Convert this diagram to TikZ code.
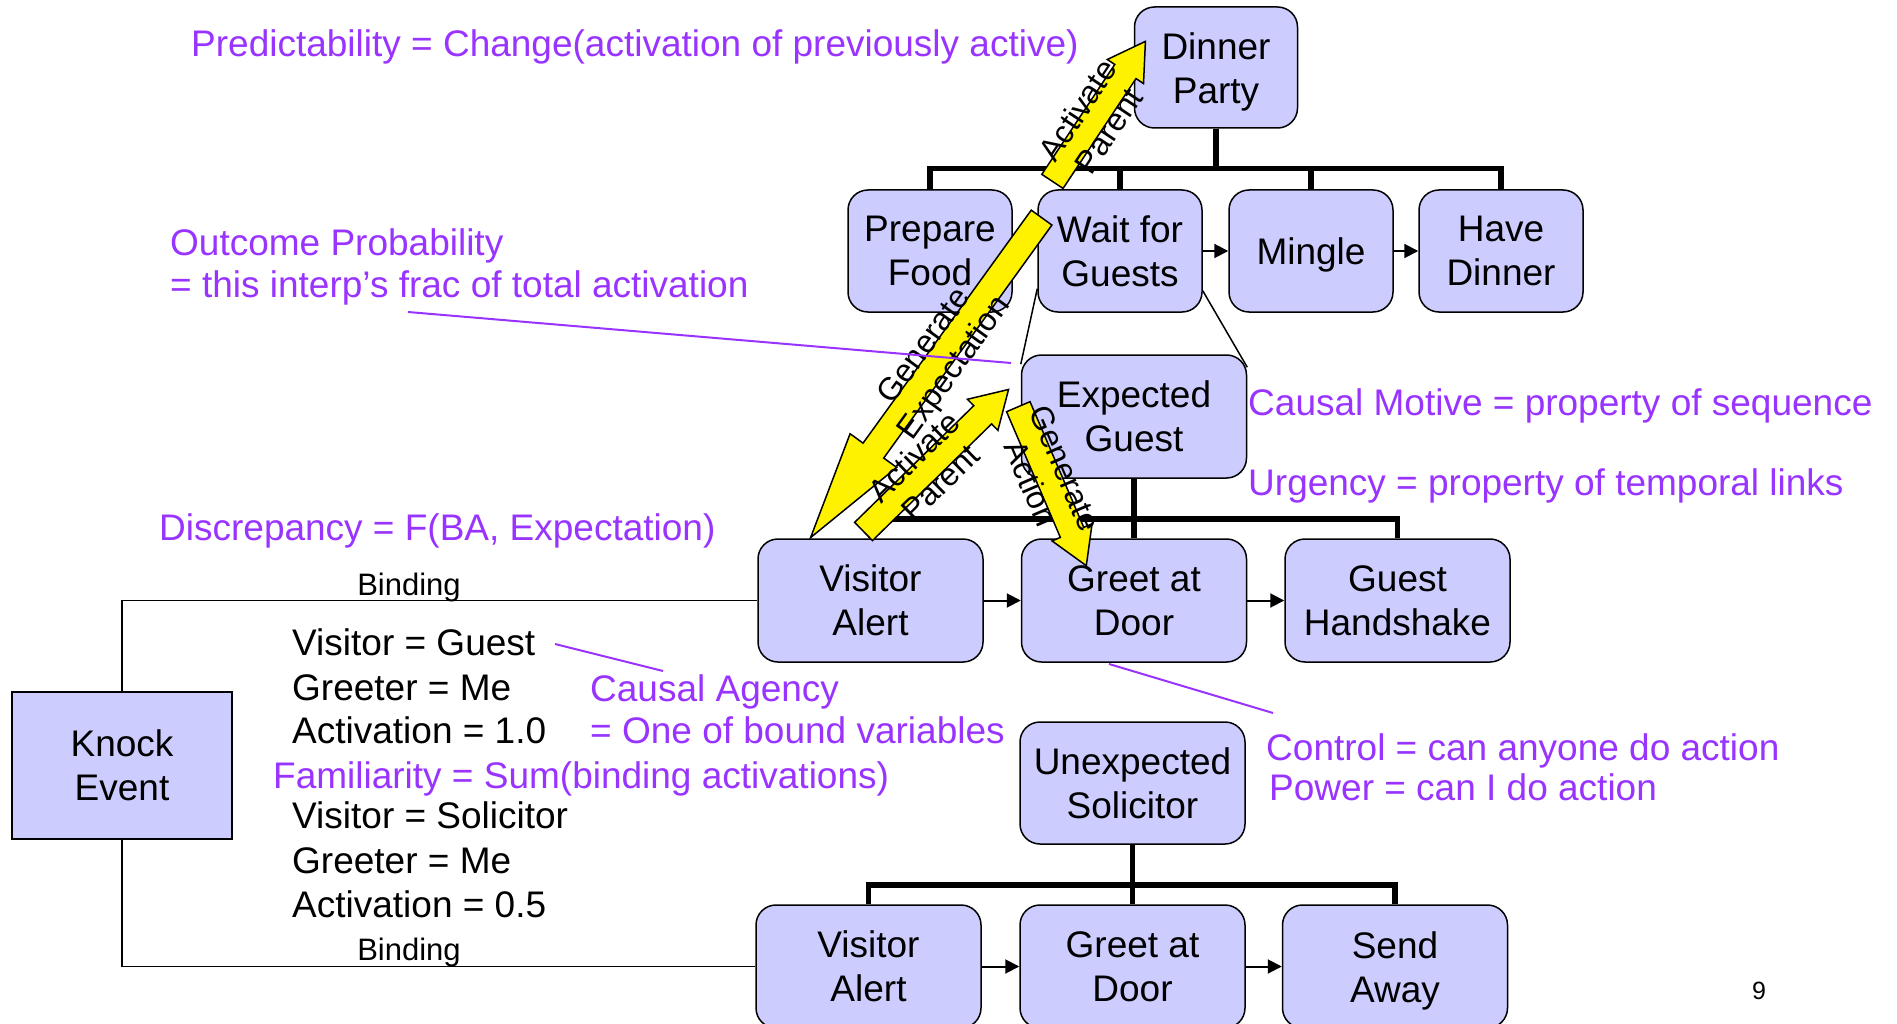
\documentclass[tikz,border=0pt]{standalone}
\usepackage{fontspec}
\setmainfont{Liberation Sans}
\usetikzlibrary{arrows.meta}
\usetikzlibrary{shapes.arrows}
\usetikzlibrary{calc}

\definecolor{boxfill}{HTML}{CCCCFF}
\definecolor{notecol}{HTML}{9933FF}
\newcommand{\tl}{\rule{0pt}{35pt}}

\tikzset{
  box/.style={draw, line width=1.5pt, fill=boxfill, rounded corners=20pt, align=center,
    inner sep=0pt, minimum width=164pt, minimum height=122pt, font=\fontsize{37}{44}\selectfont},
  wide/.style={minimum width=225pt, minimum height=123pt},
  tree/.style={line width=5.5pt},
  seq/.style={line width=2pt, -{Triangle[length=14pt,width=14pt]}},
  thinline/.style={line width=1.5pt},
  pointer/.style={line width=2pt, notecol},
  vars/.style={anchor=base west, inner sep=0pt, font=\fontsize{37}{44}\selectfont},
  note/.style={vars, text=notecol},
  small/.style={anchor=base, inner sep=0pt, font=\fontsize{31}{37}\selectfont},
  bigarrow/.style={single arrow, draw, line width=1.5pt, fill=yellow, inner xsep=0pt,
    inner ysep=12pt, single arrow head extend=9pt, single arrow tip angle=62},
  arrowtext/.style={align=center, inner sep=0pt, font=\fontsize{32}{37}\selectfont}
}

% yellow block arrow: [extra], name, from, to, label
\newcommand{\yarrow}[5][]{%
  \path let \p1=($(#4)-(#3)$), \n1={atan2(\y1,\x1)}, \n2={veclen(\x1,\y1)},
        \n3={ifthenelse(\x1<0,\n1+180,\n1)} in
    node (#2) [bigarrow, #1, anchor=tail, rotate=\n1, minimum height=\n2] at (#3) {}
    node (#2label) [arrowtext, rotate=\n3] at ($(#3)!0.44!(#4)$) {#5};
}

\begin{document}
\begin{tikzpicture}[x=1pt, y=-1pt]
\useasboundingbox (0,0) rectangle (1897,1024);

% Dinner party script
\node (dinner) [box, minimum width=163pt, minimum height=121pt] at (1216, 67.5) {\tl Dinner\\Party};
\node (prep) [box] at (930, 251) {Prepare\\Food};
\node (wait) [box] at (1120, 251) {Wait for\\Guests};
\node (mingle) [box] at (1311, 251) {\tl Mingle};
\node (havedinner) [box] at (1501, 251) {Have\\Dinner};

% Expected guest script
\node (expected) [box, wide] at (1134, 416.5) {Expected\\Guest};
\node (visitor1) [box, wide] at (870.5, 600.5) {Visitor\\Alert};
\node (greet1) [box, wide] at (1134, 600.5) {Greet at\\Door};
\node (handshake) [box, wide] at (1397.5, 600.5) {Guest\\Handshake};

% Unexpected solicitor script
\node (unexpected) [box, wide, minimum height=122pt] at (1132.5, 783) {Unexpected\\Solicitor};
\node (visitor2) [box, wide] at (868.5, 966.5) {Visitor\\Alert};
\node (greet2) [box, wide] at (1132.5, 966.5) {Greet at\\Door};
\node (sendaway) [box, wide] at (1395, 966.5) {\tl Send\\Away};

% Event
\node (knock) [box, sharp corners, minimum width=220pt, minimum height=147pt] at (122, 765.5) {Knock\\Event};

% Tree links
\foreach \kid in {prep, wait, mingle, havedinner}
  \draw[tree] (dinner.south) -- ++(0, 40) -| (\kid.north);
\foreach \kid in {visitor1, greet1, handshake}
  \draw[tree] (expected.south) -- ++(0, 40) -| (\kid.north);
\foreach \kid in {visitor2, greet2, sendaway}
  \draw[tree] (unexpected.south) -- ++(0, 40) -| (\kid.north);

% Sequence links
\draw[seq] (wait) -- (mingle);
\draw[seq] (mingle) -- (havedinner);
\draw[seq] (visitor1) -- (greet1);
\draw[seq] (greet1) -- (handshake);
\draw[seq] (visitor2) -- (greet2);
\draw[seq] (greet2) -- (sendaway);

% Expansion of Wait for Guests
\draw[thinline] ([yshift=24pt]wait.south west) -- ([yshift=-10pt]expected.north west);
\draw[thinline] ([yshift=22pt]wait.south east) -- ([yshift=-13pt]expected.north east);

% Bindings
\draw[thinline] (knock.north) |- (visitor1.west);
\draw[thinline] (knock.south) |- (visitor2.west);
\node (bind1) [small] at (409, 595) {Binding};
\node (bind2) [small] at (409, 960) {Binding};

\node (vg1) [vars] at (292, 655) {Visitor = Guest};
\node (gm1) [vars] at (292, 700) {Greeter = Me};
\node (act1) [vars] at (292, 743) {Activation = 1.0};
\node (vs2) [vars] at (292, 828) {Visitor = Solicitor};
\node (gm2) [vars] at (292, 873) {Greeter = Me};
\node (act2) [vars] at (292, 917) {Activation = 0.5};

% Yellow arrows
\coordinate (a1s) at (1052, 182);
\coordinate (a1e) at (1145, 42);
\coordinate (a2s) at (1042, 217);
\coordinate (a2e) at (811, 537);
\coordinate (a3s) at (863, 532);
\coordinate (a3e) at (1008, 390);
\coordinate (a4s) at (1018, 406);
\coordinate (a4e) at (1086, 565);
\yarrow{up1}{a1s}{a1e}{Activate\\Parent}
\yarrow[single arrow head extend=16pt, single arrow tip angle=30]{expect}{a2s}{a2e}{Generate\\Expectation}
\yarrow{up2}{a3s}{a3e}{Activate\\Parent}
\yarrow{action}{a4s}{a4e}{Generate\\Action}

% Notes
\node (predict) [note] at (191, 57) {Predictability = Change(activation of previously active)};
\node (outcome1) [note] at (170, 255) {Outcome Probability};
\node (outcome2) [note] at (170, 297) {= this interp’s frac of total activation};
\node (discrep) [note] at (159, 540) {Discrepancy = F(BA, Expectation)};
\node (motive) [note] at (1248, 415) {Causal Motive = property of sequence};
\node (urgency) [note] at (1248, 495) {Urgency = property of temporal links};
\node (agency1) [note] at (590, 701) {Causal Agency};
\node (agency2) [note] at (590, 743) {= One of bound variables};
\node (familiar) [note] at (273, 788) {Familiarity = Sum(binding activations)};
\node (control) [note] at (1266, 760) {Control = can anyone do action};
\node (power) [note] at (1269, 800) {Power = can I do action};

\coordinate (p1s) at (408, 312);
\coordinate (p1e) at (1011, 363);
\coordinate (p2s) at (555, 644);
\coordinate (p2e) at (663, 671);
\coordinate (p3s) at (1109, 664);
\coordinate (p3e) at (1273, 713);
\draw[pointer] (p1s) -- (p1e);
\draw[pointer] (p2s) -- (p2e);
\draw[pointer] (p3s) -- (p3e);

\node (pagenum) [font=\fontsize{25}{30}\selectfont] at (1759, 991) {9};

\end{tikzpicture}
\end{document}
